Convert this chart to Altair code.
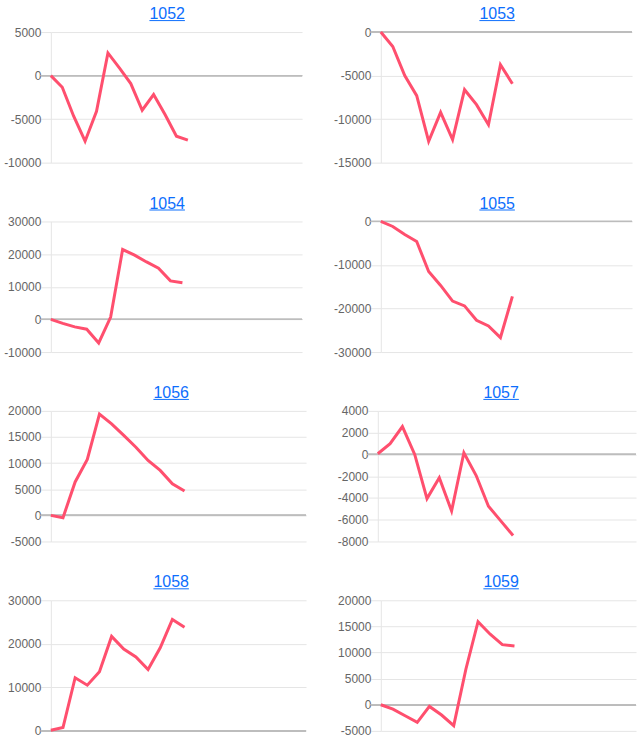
import altair as alt
import pandas as pd

# ---- data ----
names = ["1052", "1053", "1054", "1055", "1056", "1057", "1058", "1059"]

v1052 = [0, -1340, -4670, -7540, -4100, 2600, 880, -920, -3980, -2180, -4480, -6960, -7420]
v1053 = [0, -1650, -5000, -7300, -12550, -9220, -12350, -6620, -8340, -10640, -3750, -5930]
v1054 = [0, -1200, -2300, -3000, -7200, 700, 21400, 19700, 17600, 15700, 11800, 11200]
v1055 = [0, -1150, -3000, -4600, -11500, -14700, -18300, -19400, -22700, -24000, -26700, -17200]
v1056 = [0, -450, 6400, 10700, 19400, 17500, 15300, 13050, 10500, 8600, 6050, 4650]
v1057 = [60, 980, 2560, 0, -4060, -2140, -5200, 150, -1940, -4760, -6110, -7450]
v1058 = [150, 770, 12200, 10500, 13600, 21700, 18800, 17000, 14100, 19100, 25600, 23800]
v1059 = [0, -830, -2100, -3370, -320, -1970, -4000, 6800, 15900, 13500, 11500, 11250]
series = [v1052, v1053, v1054, v1055, v1056, v1057, v1058, v1059]

x_max = [22, 21, 21, 21, 21, 21, 21, 21]
y_min = [-10000, -15000, -10000, -30000, -5000, -8000, 0, -5000]
y_max = [5000, 0, 30000, 0, 20000, 4000, 30000, 20000]
y_step = [5000, 5000, 10000, 10000, 5000, 2000, 10000, 5000]

# ---- layout / style ----
widths = [252, 252, 252, 252, 256, 259, 256, 256]
HEIGHT = 131
LINE = "#ff4f6e"
GRID = "#e5e5e5"
ZERO = "#bdbdbd"
LINK = "#0d6efd"
FONT = "Liberation Sans"


def panel(i):
    name = names[i]
    vals = series[i]
    w = widths[i]
    df = pd.DataFrame({"step": list(range(len(vals))), "value": vals})
    ticks = list(range(y_min[i], y_max[i] + 1, y_step[i]))
    xs = alt.Scale(domain=[0, x_max[i]], nice=False, zero=False)
    ys = alt.Scale(domain=[y_min[i], y_max[i]], nice=False, zero=False)

    line = alt.Chart(df).mark_line(color=LINE, strokeWidth=3, strokeJoin="miter").encode(
        x=alt.X("step:Q", scale=xs, axis=None),
        y=alt.Y(
            "value:Q",
            scale=ys,
            axis=alt.Axis(
                values=ticks,
                tickCount=len(ticks),
                labelExpr="'' + datum.value",
                title=None,
            ),
        ),
    )
    zero = alt.Chart(df).mark_rule(color=ZERO, strokeWidth=1).encode(
        y=alt.datum(0), x=alt.value(-10), x2=alt.value(w)
    )
    tdf = pd.DataFrame({"name": [name]})
    cx = w - 135.3
    title = alt.Chart(tdf).mark_text(
        font=FONT, fontSize=16, color=LINK, align="center", baseline="alphabetic"
    ).encode(text="name:N", x=alt.value(cx), y=alt.value(-13))
    underline = alt.Chart(tdf).mark_rule(color=LINK, strokeWidth=1).encode(
        x=alt.value(cx - 17.8), x2=alt.value(cx + 17.8), y=alt.value(-11.5)
    )
    return alt.layer(zero, line, title, underline).properties(width=w, height=HEIGHT)


rows = [alt.hconcat(panel(2 * r), panel(2 * r + 1), spacing=30) for r in range(4)]
chart = (
    alt.vconcat(*rows, spacing=27)
    .properties(padding={"left": 3, "top": 5, "right": 2, "bottom": 2})
    .configure_view(stroke=None)
    .configure_axisY(
        labelOverlap=False,
        labelBound=False,
        labelFlush=False,
        grid=True,
        gridColor=GRID,
        gridWidth=1,
        tickSize=10,
        tickColor=GRID,
        domainColor=GRID,
        labelColor="#666666",
        labelFontSize=12,
        labelFont=FONT,
        labelPadding=0,
    )
)

chart.save("out.html", embed_options={"renderer": "svg", "actions": False})
